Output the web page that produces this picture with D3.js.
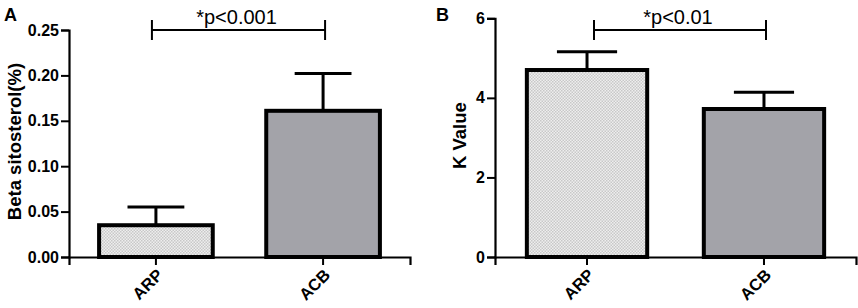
<!DOCTYPE html>
<html>
<head>
<meta charset="utf-8">
<script src="https://cdn.jsdelivr.net/npm/d3@7"></script>
<style>
  body { margin: 0; background: #fff; }
  svg { display: block; font-family: "Liberation Sans", Arial, sans-serif; }
</style>
</head>
<body>
<svg id="chart" width="858" height="308"></svg>
<script>
// data
var categories = ["ARP", "ACB"];
var betaMeans = [0.035, 0.161];
var betaErr = [0.020, 0.041];
var kMeans = [4.70, 3.72];
var kErr = [0.46, 0.42];
var betaTicks = [0, 0.05, 0.10, 0.15, 0.20, 0.25];
var kTicks = [0, 2, 4, 6];
var pTexts = ["*p<0.001", "*p<0.01"];

var svg = d3.select("#chart");

// stippled fill for ARP bars
var defs = svg.append("defs");
var pat = defs.append("pattern")
    .attr("id", "dots")
    .attr("width", 3).attr("height", 3)
    .attr("patternUnits", "userSpaceOnUse");
pat.append("rect").attr("width", 3).attr("height", 3).attr("fill", "#eeeeee");
pat.append("rect").attr("width", 1.5).attr("height", 1.5).attr("fill", "#c8c8c8");
pat.append("rect").attr("x", 1.5).attr("y", 1.5).attr("width", 1.5).attr("height", 1.5).attr("fill", "#c8c8c8");

var fills = ["url(#dots)", "#a3a3a9"];

function panel(opt){
    var g = svg.append("g");
    var x = d3.scaleBand().domain(categories)
        .range([opt.x0, opt.x1]).paddingInner(0.32).paddingOuter(0.18);
    var y = d3.scaleLinear().domain(opt.domain).range([257, opt.top]);

    var data = categories.map(function(c, i){
        return {cat: c, v: opt.means[i], e: opt.errs[i], fill: fills[i]};
    });

    // error bars (behind bars)
    var eb = g.selectAll(".err").data(data).enter().append("g");
    eb.append("line")
        .attr("x1", function(d){ return x(d.cat) + x.bandwidth()/2 })
        .attr("x2", function(d){ return x(d.cat) + x.bandwidth()/2 })
        .attr("y1", function(d){ return y(d.v) })
        .attr("y2", function(d){ return y(d.v + d.e) })
        .attr("stroke", "#000").attr("stroke-width", 3);
    eb.append("line")
        .attr("x1", function(d){ return x(d.cat) + x.bandwidth()*0.25 })
        .attr("x2", function(d){ return x(d.cat) + x.bandwidth()*0.75 })
        .attr("y1", function(d){ return y(d.v + d.e) })
        .attr("y2", function(d){ return y(d.v + d.e) })
        .attr("stroke", "#000").attr("stroke-width", 3);

    g.selectAll(".bar").data(data).enter().append("rect")
        .attr("x", function(d){ return x(d.cat) })
        .attr("y", function(d){ return y(d.v) })
        .attr("width", x.bandwidth())
        .attr("height", function(d){ return y(0) - y(d.v) })
        .attr("fill", function(d){ return d.fill })
        .attr("stroke", "#000").attr("stroke-width", 4);

    // y axis
    var ya = g.append("g").attr("transform", "translate(" + opt.x0 + ",0)")
        .call(d3.axisLeft(y).tickValues(opt.ticks).tickFormat(d3.format(opt.fmt))
            .tickSizeOuter(0).tickSize(8).tickPadding(2));
    // x axis
    var xa = g.append("g").attr("transform", "translate(0,257)")
        .call(d3.axisBottom(x).tickSizeOuter(0).tickSize(8).tickFormat(""));
    [ya, xa].forEach(function(a){
        a.select(".domain").attr("stroke", "#000").attr("stroke-width", 2.2);
        a.selectAll(".tick line").attr("stroke", "#000").attr("stroke-width", 2);
    });
    ya.selectAll("text").attr("font-size", 16).attr("font-weight", "bold")
        .attr("fill", "#000").attr("font-family", "Liberation Sans, Arial, sans-serif");

    // rotated category labels
    g.selectAll(".xl").data(categories).enter().append("text")
        .attr("transform", function(c){
            return "translate(" + (x(c) + x.bandwidth()/2 + 4) + ",272) rotate(-45)";
        })
        .attr("text-anchor", "end")
        .attr("dy", "0.35em")
        .attr("font-size", 16.5).attr("font-weight", "bold")
        .text(function(c){ return c });

    // y label
    g.append("text")
        .attr("transform", "translate(" + opt.labelX + "," + ((257 + opt.top)/2 - 2) + ") rotate(-90)")
        .attr("text-anchor", "middle")
        .attr("font-size", 18.5).attr("font-weight", "bold")
        .text(opt.ylabel);

    // panel letter
    g.append("text").attr("x", opt.letterX).attr("y", 21)
        .attr("font-size", 18).attr("font-weight", "bold").text(opt.letter);

    // significance bracket
    var bx1 = x(categories[0]) + x.bandwidth()/2 + opt.bOff,
        bx2 = x(categories[1]) + x.bandwidth()/2 + 2;
    var by = 30;
    var br = g.append("g").attr("stroke", "#000").attr("stroke-width", 2);
    br.append("line").attr("x1", bx1).attr("x2", bx2).attr("y1", by).attr("y2", by);
    br.append("line").attr("x1", bx1).attr("x2", bx1).attr("y1", by - 10).attr("y2", by + 10);
    br.append("line").attr("x1", bx2).attr("x2", bx2).attr("y1", by - 10).attr("y2", by + 10);
    g.append("text").attr("x", (bx1 + bx2)/2 - 2).attr("y", 24)
        .attr("text-anchor", "middle").attr("font-size", 20)
        .text(opt.ptext);
}

panel({x0: 69, x1: 410, top: 30, domain: [0, 0.25], means: betaMeans, errs: betaErr,
       ticks: betaTicks, fmt: ".2f", ylabel: "Beta sitosterol(%)", labelX: 21,
       letter: "A", letterX: 4, ptext: pTexts[0], bOff: -4});
panel({x0: 495, x1: 856, top: 18.3, domain: [0, 6], means: kMeans, errs: kErr,
       ticks: kTicks, fmt: "d", ylabel: "K Value", labelX: 466,
       letter: "B", letterX: 436, ptext: pTexts[1], bOff: 7});
</script>
</body>
</html>
